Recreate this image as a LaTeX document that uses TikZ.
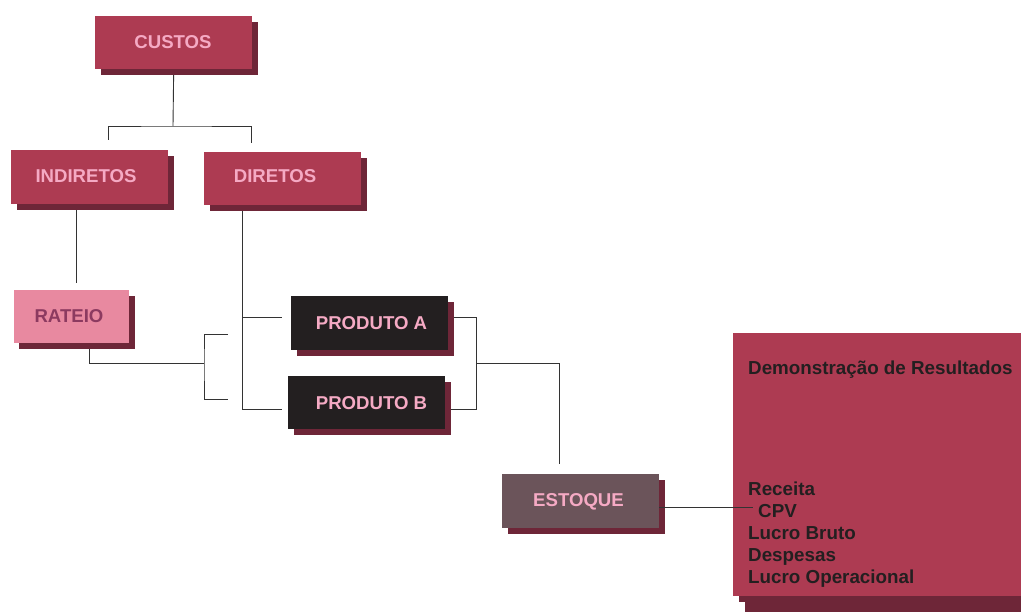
\documentclass[tikz,border=0pt]{standalone}
\usepackage{fontspec}
\setmainfont{Liberation Sans}
\usetikzlibrary{shadows,backgrounds}
\definecolor{boxred}{HTML}{AD3B52}
\definecolor{shadowc}{HTML}{6E2638}
\definecolor{pinktxt}{HTML}{F5AAC4}
\definecolor{rateiofill}{HTML}{E889A0}
\definecolor{rateiotxt}{HTML}{8C3A60}
\definecolor{prodfill}{HTML}{231F20}
\definecolor{estfill}{HTML}{6B545A}
\definecolor{dretxt}{HTML}{231F20}
\definecolor{linec}{HTML}{333333}
\begin{document}
\begin{tikzpicture}[x=1pt,y=-1pt,
  box/.style={draw=none, inner sep=0pt, anchor=north west, fill=boxred,
    drop shadow={shadow xshift=6pt, shadow yshift=-6pt, fill=shadowc, opacity=1}},
  lbl/.style={font=\bfseries\fontsize{18.6}{18.6}\selectfont, text=pinktxt, anchor=base, inner sep=0pt},
  dre/.style={font=\bfseries\fontsize{18.8}{18.8}\selectfont, text=dretxt, anchor=base west, inner sep=0pt},
  conn/.style={draw=linec, line width=0.9pt}]
\useasboundingbox (0,0) rectangle (1021,612);

% boxes
\node[box, minimum width=157pt, minimum height=53pt] (custos) at (95,16) {};
\node[box, minimum width=157pt, minimum height=54pt] (indiretos) at (11,150) {};
\node[box, minimum width=157pt, minimum height=53pt] (diretos) at (204,152) {};
\node[box, fill=rateiofill, minimum width=115pt, minimum height=53pt,
  drop shadow={shadow xshift=5pt, shadow yshift=-6pt, fill=shadowc, opacity=1}] (rateio) at (14,290) {};
\node[box, fill=prodfill, minimum width=157pt, minimum height=54pt] (prodA) at (291,296) {};
\node[box, fill=prodfill, minimum width=157pt, minimum height=53pt] (prodB) at (288,376) {};
\node[box, fill=estfill, minimum width=157pt, minimum height=54pt] (estoque) at (502,474) {};
\node[box, minimum width=300pt, minimum height=263pt,
  drop shadow={shadow xshift=12pt, shadow yshift=-20pt, fill=shadowc, opacity=1}] (dre) at (733,333) {};

% labels
\node[lbl] (custosT) at (173,48.5) {CUSTOS};
\node[lbl] (indiretosT) at (86,182.7) {INDIRETOS};
\node[lbl] (diretosT) at (275,183) {DIRETOS};
\node[lbl, text=rateiotxt] (rateioT) at (69,323) {RATEIO};
\node[lbl] (prodAT) at (371.5,330) {PRODUTO A};
\node[lbl] (prodBT) at (371.5,410) {PRODUTO B};
\node[lbl] (estoqueT) at (578.5,506.7) {ESTOQUE};

\node[dre] (dreT) at (748,375) {Demonstração de Resultados};
\node[dre] (rec) at (748,495) {Receita};
\node[dre] (cpv) at (758,517) {CPV};
\node[dre] (lb) at (748,539) {Lucro Bruto};
\node[dre] (desp) at (748,561) {Despesas};
\node[dre] (lo) at (748,583) {Lucro Operacional};

% connectors
\coordinate (c1) at (173,126);
\coordinate (indTop) at (108,140);
\coordinate (dirTop) at (251,143);
\coordinate (ratTop) at (76,283);
\coordinate (rB) at (89,363);
\coordinate (bk) at (204,363);
\coordinate (bA) at (228,334);
\coordinate (bB) at (228,399);
\coordinate (dA) at (242,317);
\coordinate (pa) at (282,317);
\coordinate (pb) at (282,409);
\coordinate (ra) at (476,317);
\coordinate (rb) at (476,409);
\coordinate (rm) at (476,363);
\coordinate (eTop) at (559,464);
\coordinate (cpvEnd) at (753,507);

\begin{scope}[on background layer]
\draw[conn] (custos.south) -- (c1);
\draw[conn] (indTop) |- (c1) -| (dirTop);
\draw[conn] (indiretos.south -| ratTop) -- (ratTop);
\draw[conn] (rateio.south -| rB) -- (rB) -- (bk);
\draw[conn] (bA) -| (bk) |- (bB);
\draw[conn] (diretos.south -| dA) -- (dA |- pb) -- (pb);
\draw[conn] (dA) -- (pa);
\draw[conn] (prodA.east |- ra) -- (ra) -- (rb) -- (prodB.east |- rb);
\draw[conn] (rm) -| (eTop);
\end{scope}
\draw[conn] (estoque.east |- cpvEnd) -- (cpvEnd);
\end{tikzpicture}
\end{document}
